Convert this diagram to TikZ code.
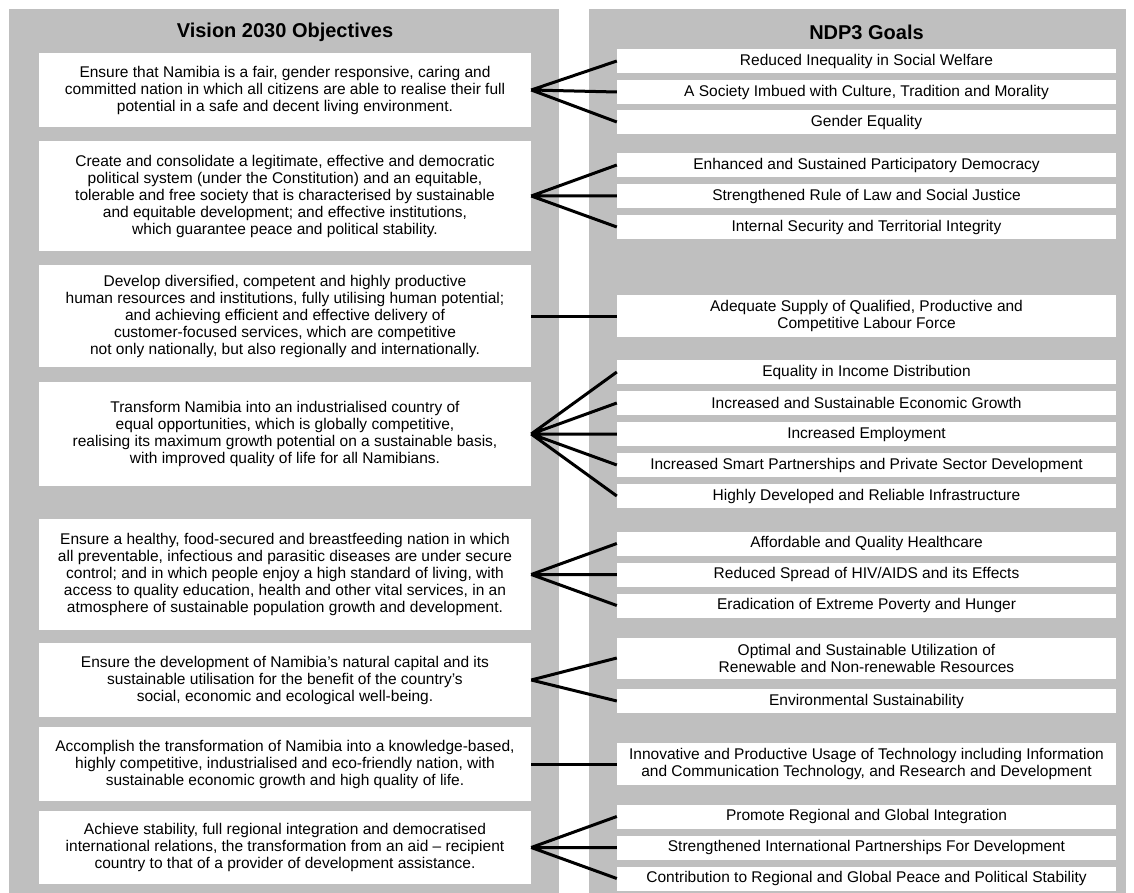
\documentclass[tikz,border=0pt]{standalone}
\usepackage{fontspec}
\setmainfont{Liberation Sans}

\begin{document}
\begin{tikzpicture}[x=1pt,y=-1pt,
    panel/.style={fill=black!25},
    heading/.style={font=\fontsize{20}{24}\selectfont\bfseries},
    objbox/.style={fill=white,minimum width=492pt,align=center,inner sep=1pt,font=\fontsize{15.5}{17}\selectfont},
    goalbox/.style={fill=white,minimum width=499pt,minimum height=24pt,align=center,inner sep=1pt,font=\fontsize{15.5}{17}\selectfont},
    link/.style={line width=3pt}]
        \useasboundingbox (0,0) rectangle (1134,893);
        \fill[panel] (9,9) rectangle (559,893);
        \fill[panel] (589,9) rectangle (1126,893);

        \node[heading] (tv) at (285,32) {Vision 2030 Objectives};
        \node[heading] (tg) at (866.5,32) {NDP3 Goals};

        % Vision 2030 objectives
        \node[objbox,minimum height=74pt] (v1) at (285,90) {Ensure that Namibia is a fair, gender responsive, caring and\\committed nation in which all citizens are able to realise their full\\potential in a safe and decent living environment.};
        \node[objbox,minimum height=110pt] (v2) at (285,196) {Create and consolidate a legitimate, effective and democratic\\political system (under the Constitution) and an equitable,\\tolerable and free society that is characterised by sustainable\\and equitable development; and effective institutions,\\which guarantee peace and political stability.};
        \node[objbox,minimum height=102pt] (v3) at (285,316) {Develop diversified, competent and highly productive\\human resources and institutions, fully utilising human potential;\\and achieving efficient and effective delivery of\\customer-focused services, which are competitive\\not only nationally, but also regionally and internationally.};
        \node[objbox,minimum height=104pt] (v4) at (285,434) {Transform Namibia into an industrialised country of\\equal opportunities, which is globally competitive,\\realising its maximum growth potential on a sustainable basis,\\with improved quality of life for all Namibians.};
        \node[objbox,minimum height=111pt] (v5) at (285,574.5) {Ensure a healthy, food-secured and breastfeeding nation in which\\all preventable, infectious and parasitic diseases are under secure\\control; and in which people enjoy a high standard of living, with\\access to quality education, health and other vital services, in an\\atmosphere of sustainable population growth and development.};
        \node[objbox,minimum height=74pt] (v6) at (285,680) {Ensure the development of Namibia’s natural capital and its\\sustainable utilisation for the benefit of the country’s\\social, economic and ecological well-being.};
        \node[objbox,minimum height=74pt] (v7) at (285,764) {Accomplish the transformation of Namibia into a knowledge-based,\\highly competitive, industrialised and eco-friendly nation, with\\sustainable economic growth and high quality of life.};
        \node[objbox,minimum height=73pt] (v8) at (285,847.5) {Achieve stability, full regional integration and democratised\\international relations, the transformation from an aid -- recipient\\country to that of a provider of development assistance.};

        % NDP3 goals
        \node[goalbox] (g1) at (866.5,61) {Reduced Inequality in Social Welfare};
        \node[goalbox] (g2) at (866.5,92) {A Society Imbued with Culture, Tradition and Morality};
        \node[goalbox] (g3) at (866.5,122) {Gender Equality};
        \node[goalbox] (g4) at (866.5,165) {Enhanced and Sustained Participatory Democracy};
        \node[goalbox] (g5) at (866.5,196) {Strengthened Rule of Law and Social Justice};
        \node[goalbox] (g6) at (866.5,227) {Internal Security and Territorial Integrity};
        \node[goalbox,minimum height=42pt] (g7) at (866.5,316) {Adequate Supply of Qualified, Productive and\\Competitive Labour Force};
        \node[goalbox] (g8) at (866.5,372) {Equality in Income Distribution};
        \node[goalbox] (g9) at (866.5,403) {Increased and Sustainable Economic Growth};
        \node[goalbox] (g10) at (866.5,434) {Increased Employment};
        \node[goalbox] (g11) at (866.5,465) {Increased Smart Partnerships and Private Sector Development};
        \node[goalbox] (g12) at (866.5,496) {Highly Developed and Reliable Infrastructure};
        \node[goalbox] (g13) at (866.5,543.5) {Affordable and Quality Healthcare};
        \node[goalbox] (g14) at (866.5,574.5) {Reduced Spread of HIV/AIDS and its Effects};
        \node[goalbox] (g15) at (866.5,605.5) {Eradication of Extreme Poverty and Hunger};
        \node[goalbox,minimum height=41pt] (g16) at (866.5,658) {Optimal and Sustainable Utilization of\\Renewable and Non-renewable Resources};
        \node[goalbox] (g17) at (866.5,701) {Environmental Sustainability};
        \node[goalbox,minimum height=42pt] (g18) at (866.5,764) {Innovative and Productive Usage of Technology including Information\\and Communication Technology, and Research and Development};
        \node[goalbox] (g19) at (866.5,816.5) {Promote Regional and Global Integration};
        \node[goalbox] (g20) at (866.5,847.5) {Strengthened International Partnerships For Development};
        \node[goalbox] (g21) at (866.5,878.5) {Contribution to Regional and Global Peace and Political Stability};

        % links
        \draw[link] (v1.east) -- (g1.west) (v1.east) -- (g2.west) (v1.east) -- (g3.west);
        \draw[link] (v2.east) -- (g4.west) (v2.east) -- (g5.west) (v2.east) -- (g6.west);
        \draw[link] (v3.east) -- (g7.west);
        \draw[link] (v4.east) -- (g8.west) (v4.east) -- (g9.west) (v4.east) -- (g10.west)
                    (v4.east) -- (g11.west) (v4.east) -- (g12.west);
        \draw[link] (v5.east) -- (g13.west) (v5.east) -- (g14.west) (v5.east) -- (g15.west);
        \draw[link] (v6.east) -- (g16.west) (v6.east) -- (g17.west);
        \draw[link] (v7.east) -- (g18.west);
        \draw[link] (v8.east) -- (g19.west) (v8.east) -- (g20.west) (v8.east) -- (g21.west);
    \end{tikzpicture}
\end{document}
